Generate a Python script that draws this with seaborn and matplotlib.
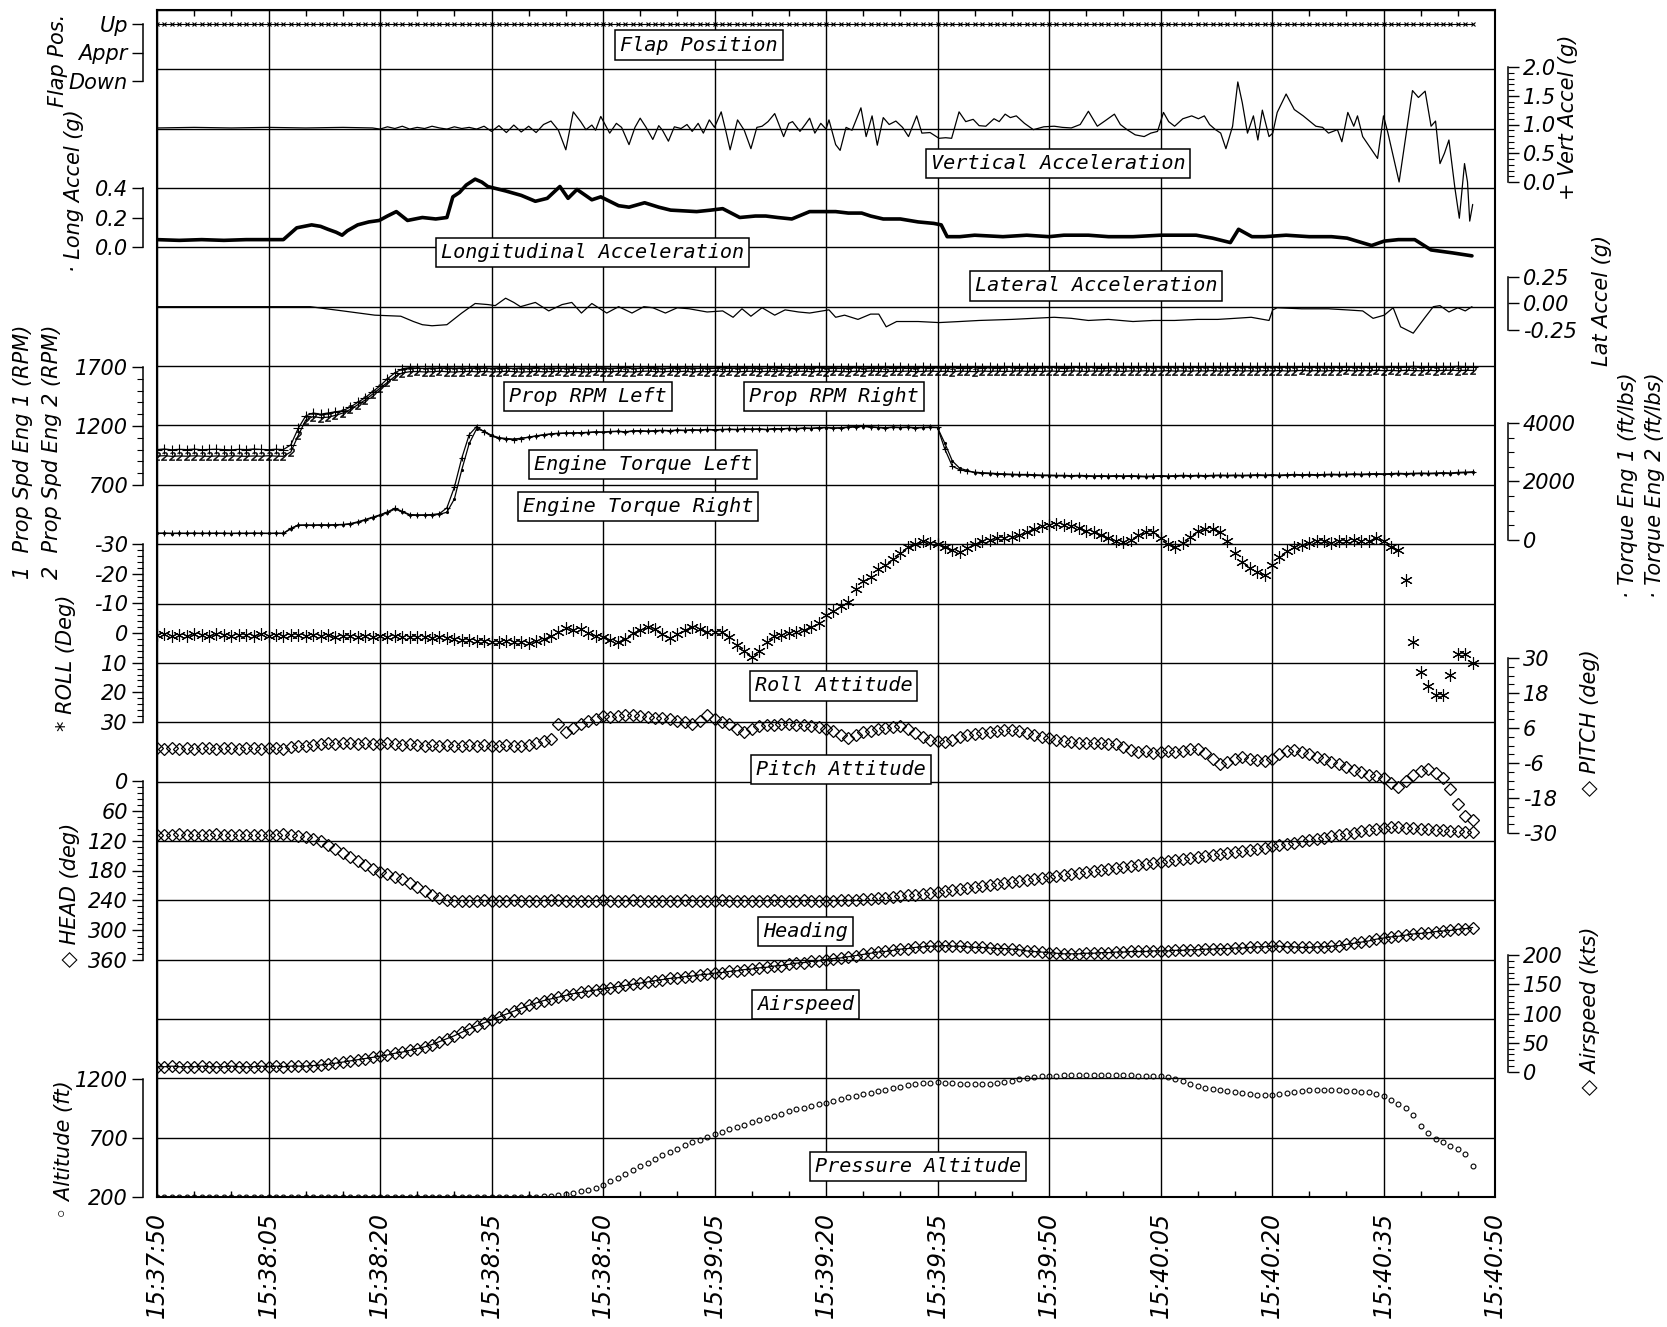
import numpy as np
import matplotlib
matplotlib.use("Agg")
import matplotlib.pyplot as plt
import seaborn as sns

sns.set_style("white", {"axes.edgecolor": "black", "text.color": "black",
                        "xtick.color": "black", "ytick.color": "black"})
plt.rcParams['font.family'] = ['DejaVu Sans']
plt.rcParams['font.style'] = 'italic'

#time axis, seconds after 15:37:50 (one sample per second)
secs = np.arange(0, 178)
time_labels = ['15:37:50', '15:38:05', '15:38:20', '15:38:35', '15:38:50', '15:39:05', '15:39:20',
               '15:39:35', '15:39:50', '15:40:05', '15:40:20', '15:40:35', '15:40:50']

flap_pos = ['Up'] * len(secs)
flap_code = {'Down': 0, 'Appr': 1, 'Up': 2}

#(sec, g)
vert_accel = [
    (0, .94), (5, .95), (10, .94), (15, .95), (20, .94), (25, .95), (29, .94), (30, .92), (31, .96), (32, .93),
    (33, .97), (34, .92), (35, .95), (36, .93), (37, .97), (38, .94), (39, .92), (40, .96), (41, .93), (42, .95),
    (43, .92), (44, .97), (45, .88), (46, .98), (47, .86), (48, .99), (49, .87), (50, .97), (51, .86), (52, 1.0),
    (53, 1.06), (54, .9), (55, .56), (56, 1.22), (57, 1.05), (57.7, .91), (58.5, .99), (59, .9), (59.7, 1.14), (60.9, .85),
    (61.8, 1.02), (62.5, .95), (63.5, .65), (64.3, .95), (65, 1.11), (65.8, .95), (66.7, .74), (67.5, .98), (68, .9), (68.8, .71),
    (69.6, .96), (70.5, .93), (71.3, 1.0), (72, .88), (72.8, 1.02), (73.5, .85), (74.3, 1.08), (75, .95), (75.9, 1.22), (76.5, .9),
    (77.1, .56), (78.1, 1.08), (79, .9), (79.9, .58), (80.7, .95), (81.4, .97), (82.2, 1.05), (83.1, 1.19), (84.3, .79), (85, 1.02),
    (85.5, 1.05), (86.5, .88), (87.2, 1.0), (87.8, 1.11), (88.5, .85), (89.3, 1.02), (90, .92), (90.4, 1.08), (91.3, .65), (91.9, .55),
    (92.7, .95), (93.5, .9), (94.7, 1.29), (95.4, .79), (96.2, 1.15), (96.9, .64), (97.7, 1.12), (98.5, 1.0), (99.4, 1.06), (100.3, .95),
    (101.1, .79), (102.2, 1.15), (102.9, .85), (104, .86), (105.2, .76), (106.1, .77), (106.9, .76), (107.9, 1.22), (108.8, 1.05), (109.8, 1.09),
    (110.6, .98), (111.5, .97), (112.6, 1.1), (113.3, 1.05), (114.1, 1.18), (114.8, 1.12), (115.6, 1.15), (116.7, 1.02), (117.9, .91), (119.3, .96),
    (120.7, .97), (121.8, .95), (123, .94), (124.2, 1.0), (125.3, 1.23), (126.5, .97), (127.5, 1.06), (128.8, 1.18), (129.6, 1.0), (130.5, .91),
    (131.6, .82), (132.8, .79), (133.7, .85), (134.6, .88), (135.4, 1.21), (136.1, 1.05), (136.9, .97), (138, 1.1), (139.2, 1.15), (140.1, 1.1),
    (140.9, 1.15), (141.6, 1.0), (142.4, .91), (143.1, .85), (143.8, .58), (144.7, .97), (145.4, 1.74), (146, 1.38), (146.7, .85), (147.5, 1.15),
    (148.1, .73), (148.7, 1.25), (149.6, .79), (150.1, .85), (150.7, 1.21), (151.9, 1.53), (153, 1.26), (154.2, 1.15), (155.9, .97), (156.8, .95),
    (157.6, .85), (158.8, .91), (159.4, .7), (160.2, 1.21), (161, .97), (161.5, 1.15), (162.2, .79), (163.2, .6), (164.2, .41), (165, 1.15),
    (165.6, .85), (166.4, .4), (167.1, 0.0), (168, .79), (168.9, 1.59), (169.7, 1.47), (170.6, 1.58), (171.4, .97), (172, 1.06), (172.6, .32),
    (173.2, .5), (173.8, .73), (174.6, -.1), (175.2, -.63), (175.9, .32), (176.3, 0.0), (176.6, -.68), (177, -.39)]

long_accel = [
    (0, .05), (3, .045), (6, .05), (9, .045), (12, .05), (15, .05), (17, .05), (18.8, .13), (20.8, .15), (22, .14),
    (23, .12), (24.1, .10), (24.9, .08), (25.6, .11), (27, .15), (28.5, .17), (29.9, .18), (31, .21), (32.2, .24), (33.7, .18),
    (35.7, .20), (37.5, .19), (39, .20), (39.8, .34), (40.7, .37), (41.6, .42), (42.8, .46), (43.7, .44), (44.5, .41), (46.9, .38),
    (49, .35), (50.9, .31), (52.5, .33), (54.2, .41), (55.3, .33), (56.5, .39), (58.5, .32), (59.7, .34), (62.1, .28), (63.5, .27),
    (65.6, .30), (67.5, .27), (69.1, .25), (72.6, .24), (74.5, .25), (76.1, .26), (78.4, .20), (80.5, .21), (81.9, .21), (83.5, .20),
    (85.4, .19), (87.8, .24), (89.5, .24), (91.3, .24), (93, .23), (94.8, .23), (96, .21), (97.7, .19), (100, .19), (102.4, .17),
    (104.5, .16), (105.5, .15), (106.3, .07), (108, .07), (110, .08), (113.8, .07), (117, .08), (120, .07), (122, .08), (125.3, .08),
    (128, .07), (131.3, .07), (135, .08), (139.8, .08), (142, .06), (144.4, .03), (145.5, .12), (147.3, .07), (149, .07), (151.9, .08),
    (155, .07), (158, .07), (160.1, .06), (163.4, .01), (165.1, .04), (167, .05), (169.2, .05), (171.4, -.02), (174.3, -.04), (176.9, -.06)]

lat_accel = [
    (0, -.03), (10, -.03), (20.6, -.03), (25, -.07), (29.3, -.11), (32.8, -.12), (34.5, -.17), (35.7, -.2), (37, -.21), (39, -.2),
    (41, -.09), (42.8, 0.0), (44.5, -.01), (45.5, -.02), (46.9, .05), (48, .01), (48.9, -.03), (50.9, .01), (52.7, -.07), (54.5, -.01),
    (55.8, .01), (57.1, -.09), (58.5, 0.0), (60.5, -.09), (62.1, -.03), (63.9, -.09), (65.5, -.03), (66.7, -.04), (68.4, -.09), (70, -.04),
    (71.6, -.05), (74, -.08), (76.1, -.07), (77.5, -.13), (78.7, -.05), (79.9, -.12), (81.4, -.04), (83.1, -.11), (84.5, -.06), (86.3, -.08),
    (87.8, -.09), (90.4, -.06), (91.3, -.13), (92.5, -.11), (94.3, -.15), (96, -.1), (97.1, -.1), (98.1, -.22), (99.5, -.17), (102.4, -.17),
    (105.2, -.18), (108, -.17), (110.6, -.16), (115, -.15), (120.7, -.13), (123, -.14), (125.3, -.16), (128, -.15), (131.3, -.17), (134, -.16),
    (136.9, -.16), (140, -.15), (142.7, -.15), (145, -.14), (147.2, -.13), (149.6, -.16), (150.1, -.06), (150.7, -.04), (154, -.05), (157.6, -.05),
    (160, -.06), (162.2, -.07), (163.6, -.14), (165.1, -.11), (166.3, -.04), (167.3, -.22), (169, -.28), (170.6, -.13), (171.7, -.03), (172.6, -.02),
    (173.8, -.08), (175, -.04), (176, -.07), (176.9, -.03)]

prop_eng1 = [
    1000, 1005, 998, 1002, 1000, 1004, 999, 1001, 1003, 1000,
    998, 1002, 1000, 1005, 1001, 999, 1003, 1000, 1040, 1180,
    1285, 1310, 1300, 1310, 1320, 1330, 1360, 1400, 1440, 1490,
    1540, 1600, 1650, 1685, 1695, 1690, 1688, 1692, 1690, 1694,
    1690, 1693, 1689, 1695, 1691, 1690, 1694, 1692, 1688, 1693,
    1691, 1695, 1690, 1693, 1689, 1692, 1695, 1690, 1693, 1691,
    1694, 1690, 1692, 1696, 1691, 1689, 1693, 1695, 1690, 1692,
    1695, 1691, 1693, 1690, 1694, 1692, 1696, 1691, 1693, 1695,
    1692, 1694, 1690, 1696, 1693, 1691, 1695, 1692, 1694, 1697,
    1693, 1695, 1691, 1694, 1696, 1692, 1695, 1693, 1697, 1694,
    1696, 1692, 1695, 1697, 1693, 1696, 1694, 1698, 1695, 1693,
    1697, 1695, 1698, 1694, 1696, 1699, 1695, 1697, 1694, 1698,
    1696, 1699, 1695, 1697, 1700, 1696, 1698, 1695, 1699, 1697,
    1700, 1696, 1698, 1701, 1697, 1699, 1696, 1700, 1698, 1701,
    1697, 1700, 1698, 1702, 1699, 1697, 1701, 1699, 1702, 1698,
    1700, 1703, 1699, 1701, 1698, 1702, 1700, 1703, 1699, 1701,
    1704, 1700, 1702, 1699, 1703, 1701, 1704, 1700, 1702, 1705,
    1701, 1703, 1700, 1704, 1702, 1705, 1701, 1703]

prop_eng2 = [
    945, 948, 943, 946, 944, 947, 945, 943, 946, 944,
    947, 945, 943, 946, 944, 948, 945, 943, 980, 1120,
    1250, 1280, 1270, 1275, 1290, 1310, 1340, 1380, 1420, 1470,
    1520, 1570, 1620, 1650, 1660, 1662, 1658, 1660, 1664, 1660,
    1657, 1661, 1663, 1659, 1662, 1658, 1660, 1664, 1661, 1657,
    1660, 1663, 1659, 1661, 1664, 1658, 1662, 1660, 1657, 1663,
    1661, 1659, 1664, 1660, 1658, 1662, 1665, 1661, 1659, 1663,
    1660, 1664, 1658, 1662, 1660, 1665, 1661, 1663, 1659, 1662,
    1664, 1660, 1663, 1661, 1665, 1659, 1662, 1664, 1660, 1663,
    1661, 1665, 1662, 1660, 1664, 1661, 1666, 1662, 1660, 1664,
    1662, 1665, 1661, 1663, 1666, 1662, 1664, 1660, 1665, 1663,
    1661, 1666, 1663, 1665, 1662, 1664, 1667, 1663, 1665, 1662,
    1666, 1664, 1662, 1667, 1665, 1663, 1666, 1664, 1668, 1665,
    1663, 1667, 1665, 1668, 1664, 1666, 1669, 1665, 1667, 1664,
    1668, 1666, 1669, 1665, 1667, 1670, 1666, 1668, 1665, 1669,
    1667, 1670, 1666, 1668, 1671, 1667, 1669, 1666, 1670, 1668,
    1671, 1667, 1670, 1668, 1672, 1669, 1671, 1668, 1672, 1670,
    1668, 1672, 1669, 1671, 1673, 1670, 1672, 1671]

torque_eng1 = [
    230, 235, 228, 232, 230, 234, 229, 231, 233, 230,
    228, 232, 230, 235, 231, 229, 233, 230, 400, 510,
    515, 510, 520, 515, 525, 530, 560, 620, 700, 780,
    860, 960, 1087, 980, 870, 858, 860, 870, 900, 1100,
    1800, 2800, 3600, 3880, 3700, 3550, 3480, 3450, 3430, 3470,
    3520, 3560, 3600, 3630, 3650, 3660, 3660, 3670, 3680, 3700,
    3690, 3710, 3720, 3700, 3730, 3740, 3720, 3740, 3750, 3740,
    3760, 3750, 3770, 3760, 3780, 3770, 3780, 3790, 3780, 3800,
    3790, 3800, 3780, 3810, 3800, 3820, 3810, 3830, 3820, 3840,
    3850, 3830, 3840, 3860, 3880, 3890, 3870, 3850, 3840, 3860,
    3850, 3860, 3840, 3850, 3860, 3850, 3100, 2520, 2400, 2350,
    2320, 2300, 2290, 2270, 2260, 2250, 2240, 2240, 2230, 2220,
    2220, 2210, 2210, 2200, 2210, 2200, 2190, 2200, 2190, 2200,
    2190, 2200, 2190, 2180, 2190, 2200, 2190, 2200, 2210, 2200,
    2210, 2200, 2210, 2220, 2210, 2220, 2210, 2220, 2230, 2220,
    2230, 2220, 2230, 2240, 2230, 2240, 2230, 2240, 2250, 2240,
    2250, 2260, 2250, 2260, 2270, 2260, 2270, 2280, 2270, 2280,
    2290, 2280, 2290, 2300, 2290, 2310, 2320, 2330]

torque_eng2 = [
    225, 228, 222, 226, 224, 227, 223, 225, 228, 224,
    222, 226, 224, 228, 225, 223, 227, 224, 380, 500,
    505, 500, 510, 505, 515, 520, 545, 600, 680, 760,
    840, 930, 1060, 960, 850, 840, 845, 850, 880, 950,
    1400, 2400, 3300, 3800, 3720, 3580, 3500, 3470, 3450, 3480,
    3510, 3550, 3590, 3620, 3640, 3650, 3655, 3660, 3670, 3690,
    3680, 3700, 3710, 3690, 3720, 3730, 3710, 3730, 3740, 3730,
    3750, 3740, 3760, 3750, 3770, 3760, 3770, 3780, 3770, 3790,
    3780, 3790, 3770, 3800, 3790, 3810, 3800, 3820, 3810, 3830,
    3840, 3820, 3830, 3850, 3870, 3880, 3860, 3840, 3830, 3850,
    3840, 3850, 3830, 3840, 3850, 3840, 3300, 2700, 2450, 2380,
    2300, 2280, 2270, 2250, 2240, 2230, 2220, 2220, 2210, 2200,
    2200, 2190, 2190, 2180, 2190, 2180, 2170, 2180, 2170, 2180,
    2170, 2180, 2170, 2160, 2170, 2180, 2170, 2180, 2190, 2180,
    2190, 2180, 2190, 2200, 2190, 2200, 2190, 2200, 2210, 2200,
    2210, 2200, 2210, 2220, 2210, 2220, 2210, 2220, 2230, 2220,
    2230, 2240, 2230, 2240, 2250, 2240, 2250, 2260, 2250, 2260,
    2270, 2260, 2270, 2280, 2270, 2290, 2300, 2310]

roll = [
    0.8, 0.5, 1.0, 0.6, 0.9, 0.4, 0.8, 1.0, 0.5, 0.7,
    0.9, 0.6, 0.8, 1.1, 0.5, 0.9, 0.7, 1.0, 0.6, 0.8,
    0.9, 0.7, 1.1, 0.8, 1.2, 0.9, 1.0, 1.3, 0.9, 1.2,
    1.0, 1.3, 1.1, 1.4, 1.2, 1.5, 1.3, 1.6, 1.4, 1.7,
    1.9, 2.2, 2.5, 2.8, 2.6, 2.9, 3.1, 2.8, 3.2, 2.9,
    3.3, 2.6, 2.0, 1.0, -0.5, -1.8, -1.0, -1.5, 0.0, 1.0,
    1.5, 2.5, 3.0, 2.0, 0.0, -1.0, -2.0, -1.2, 0.5, 1.7,
    0.5, -1.0, -2.1, -1.5, -0.5, -0.4, -0.5, 1.5, 4.0, 6.0,
    8.0, 6.0, 3.0, 1.0, 0.6, 0.0, -0.5, -1.0, -2.0, -3.3,
    -6.0, -7.5, -9.0, -10.6, -15.0, -17.5, -19.0, -21.5, -23.0, -25.0,
    -27.0, -29.0, -30.0, -31.0, -30.5, -30.0, -29.0, -28.0, -27.2, -28.5,
    -30.0, -31.0, -31.5, -32.0, -32.0, -32.3, -33.0, -34.0, -35.0, -36.0,
    -36.5, -36.8, -36.5, -36.0, -35.5, -34.5, -34.0, -33.0, -32.0, -31.0,
    -30.7, -31.5, -33.0, -34.0, -34.0, -32.0, -30.0, -29.1, -30.5, -32.5,
    -34.5, -35.2, -35.0, -34.0, -31.0, -27.0, -24.0, -22.0, -20.5, -19.6,
    -23.0, -25.5, -27.5, -29.0, -29.6, -30.5, -31.0, -31.0, -30.5, -31.0,
    -31.0, -31.5, -31.0, -31.0, -32.0, -31.0, -29.0, -28.0, -18.0, 3.0,
    13.0, 18.0, 21.0, 21.0, 14.0, 7.0, 7.0, 10.0]

pitch = [
    -1.0, -1.2, -0.8, -1.1, -0.9, -1.2, -1.0, -0.8, -1.1, -1.0,
    -0.9, -1.1, -1.0, -0.8, -1.2, -1.0, -0.9, -1.1, -0.6, -0.3,
    0.0, 0.3, 0.6, 0.8, 0.6, 0.9, 0.7, 0.5, 0.8, 0.6,
    0.4, 0.7, 0.5, 0.3, 0.6, 0.2, 0.0, 0.3, -0.1, 0.2,
    0.0, -0.2, 0.1, -0.1, 0.2, 0.0, -0.2, 0.1, -0.1, 0.0,
    0.3, 0.8, 1.5, 2.3, 7.5, 4.6, 6.0, 7.5, 8.5, 9.2,
    10.0, 9.8, 10.2, 10.4, 10.4, 10.0, 9.8, 9.6, 9.6, 9.0,
    8.5, 8.0, 7.5, 8.5, 10.4, 9.0, 8.0, 7.5, 5.5, 4.6,
    5.5, 6.8, 7.0, 7.2, 7.5, 7.5, 7.2, 7.0, 6.8, 6.5,
    5.8, 5.1, 3.5, 2.5, 3.5, 4.5, 5.1, 5.5, 6.0, 6.5,
    6.8, 5.5, 4.3, 3.0, 2.0, 1.5, 1.2, 2.0, 2.8, 3.5,
    4.0, 4.3, 4.6, 5.0, 5.2, 5.2, 5.0, 4.3, 3.5, 3.0,
    2.5, 2.0, 1.5, 1.2, 1.0, 0.8, 1.0, 0.8, 0.6, 0.6,
    -0.5, -1.5, -2.3, -2.0, -2.5, -2.3, -2.0, -2.3, -1.8, -1.3,
    -1.1, -2.5, -4.5, -6.3, -5.5, -4.5, -4.0, -4.5, -5.0, -5.2,
    -4.5, -3.0, -2.0, -1.7, -2.2, -3.0, -4.0, -4.6, -5.5, -6.5,
    -7.5, -8.3, -9.1, -10.0, -10.5, -11.0, -13.0, -14.3, -12.0, -10.0,
    -8.8, -8.2, -9.5, -11.0, -15.0, -20.0, -24.0, -25.5]

heading = [
    108, 109, 108, 107, 108, 109, 108, 108, 107, 108,
    109, 108, 108, 108, 109, 108, 108, 107, 108, 110,
    113, 116, 121, 128, 136, 145, 153, 161, 169, 177,
    183, 188, 193, 198, 206, 214, 222, 229, 235, 239,
    241, 242, 242, 241, 240, 241, 242, 241, 240, 241,
    241, 242, 241, 240, 240, 241, 241, 242, 241, 241,
    240, 241, 242, 241, 240, 241, 241, 241, 242, 241,
    241, 240, 241, 242, 242, 241, 240, 241, 241, 242,
    242, 241, 241, 240, 241, 242, 241, 240, 241, 241,
    241, 241, 240, 239, 239, 238, 237, 236, 235, 233,
    232, 230, 229, 227, 225, 223, 221, 219, 217, 215,
    213, 211, 209, 207, 205, 203, 201, 199, 197, 195,
    193, 191, 189, 187, 185, 183, 181, 179, 177, 175,
    173, 171, 169, 167, 165, 163, 161, 159, 157, 155,
    153, 151, 149, 147, 145, 142, 140, 138, 136, 134,
    131, 129, 126, 124, 121, 119, 116, 114, 111, 109,
    106, 104, 101, 99, 96, 94, 92, 93, 94, 95,
    96, 97, 98, 99, 100, 101, 102, 103]

airspeed = [
    9, 9, 10, 9, 9, 9, 10, 9, 9, 9,
    10, 9, 9, 9, 10, 9, 10, 9, 10, 10,
    10, 11, 12, 13, 15, 17, 19, 21, 23, 25,
    27, 29, 32, 34, 37, 40, 43, 47, 52, 57,
    62, 68, 74, 79, 84, 89, 94, 99, 104, 109,
    114, 118, 122, 125, 128, 131, 134, 136, 138, 140,
    142, 144, 146, 148, 150, 152, 154, 156, 158, 160,
    161, 163, 164, 166, 167, 169, 170, 172, 173, 175,
    176, 178, 179, 181, 182, 184, 186, 187, 189, 190,
    192, 194, 195, 197, 199, 201, 203, 205, 206, 208,
    210, 211, 213, 214, 215, 215, 216, 215, 215, 214,
    213, 213, 212, 211, 211, 210, 209, 207, 206, 205,
    204, 203, 202, 202, 202, 203, 203, 204, 204, 205,
    205, 206, 206, 206, 207, 207, 207, 208, 208, 209,
    209, 210, 210, 211, 211, 212, 212, 213, 214, 214,
    215, 215, 214, 214, 213, 213, 214, 214, 215, 216,
    218, 220, 222, 224, 227, 229, 231, 232, 234, 236,
    237, 238, 240, 241, 242, 244, 245, 247]

altitude = [
    200, 201, 199, 200, 202, 200, 199, 201, 200, 200,
    201, 199, 200, 200, 201, 200, 199, 200, 201, 200,
    200, 199, 201, 200, 200, 202, 200, 199, 200, 201,
    200, 200, 199, 201, 200, 200, 201, 199, 200, 200,
    201, 200, 200, 202, 200, 201, 200, 201, 202, 201,
    202, 204, 207, 211, 216, 224, 234, 247, 262, 280,
    305, 335, 365, 395, 425, 462, 492, 522, 552, 582,
    610, 637, 662, 685, 708, 730, 752, 773, 793, 812,
    832, 851, 870, 888, 906, 925, 942, 957, 972, 986,
    1000, 1014, 1030, 1045, 1058, 1071, 1084, 1096, 1108, 1120,
    1132, 1145, 1156, 1165, 1170, 1172, 1170, 1165, 1160, 1157,
    1155, 1156, 1160, 1167, 1175, 1185, 1196, 1208, 1218, 1224,
    1227, 1229, 1230, 1230, 1231, 1231, 1232, 1232, 1231, 1230,
    1231, 1230, 1229, 1228, 1226, 1222, 1215, 1200, 1180, 1160,
    1140, 1125, 1115, 1109, 1100, 1090, 1080, 1072, 1066, 1065,
    1066, 1072, 1080, 1089, 1097, 1104, 1109, 1111, 1110, 1106,
    1100, 1096, 1092, 1086, 1075, 1058, 1022, 988, 952, 895,
    800, 745, 694, 666, 635, 604, 562, 463]

for name, s in [('prop1', prop_eng1), ('prop2', prop_eng2), ('tq1', torque_eng1), ('tq2', torque_eng2),
                ('roll', roll), ('pitch', pitch), ('head', heading), ('ias', airspeed), ('alt', altitude)]:
    assert len(s) == len(secs), (name, len(s))

box_labels = [('Flap Position', 72.9, 0.59), ('Vertical Acceleration', 121.2, 2.59),
              ('Longitudinal Acceleration', 58.6, 4.08), ('Lateral Acceleration', 126.3, 4.65),
              ('Prop RPM Left', 58.0, 6.51), ('Prop RPM Right', 91.1, 6.51),
              ('Engine Torque Left', 65.4, 7.66), ('Engine Torque Right', 64.7, 8.37),
              ('Roll Attitude', 91.0, 11.39), ('Pitch Attitude', 92.0, 12.79),
              ('Heading', 87.2, 15.52), ('Airspeed', 87.3, 16.75), ('Pressure Altitude', 102.4, 19.49)]

#figure layout in pixels
W, H = 1667, 1327
L, R, T, B = 157, 1495, 10, 1197
POS = [L / W, 1 - B / H, (R - L) / W, (B - T) / H]

fig = plt.figure(figsize=(W / 100, H / 100), dpi=100)
ax = fig.add_axes(POS)
ax.set_xlim(0, 180)
ax.set_ylim(20, 0)
ax.set_yticks(range(21))
ax.set_xticks(range(0, 181, 15), time_labels, rotation=90, fontsize=17)
ax.set_xticks(range(0, 181, 5), minor=True)
ax.grid(True, which='major', color='black', lw=1.0)
ax.tick_params(axis='x', which='major', length=0, pad=11)
ax.tick_params(axis='x', which='minor', direction='in', length=4, width=1, top=True, bottom=True)
ax.tick_params(axis='y', length=0, labelleft=False)
for s in ax.spines.values():
    s.set_visible(True)
    s.set_linewidth(1.5)
    s.set_color('black')


def overlay(va, pa, vb, pb):
    # value va sits at pixel row pa, vb at pb
    k = (vb - va) / (pb - pa)
    a = fig.add_axes(POS, sharex=ax)
    a.set_ylim(va + (B - pa) * k, va + (T - pa) * k)
    a.patch.set_visible(False)
    for s in a.spines.values():
        s.set_visible(False)
    a.tick_params(axis='x', which='both', bottom=False, top=False, labelbottom=False)
    a.tick_params(axis='y', which='both', left=False, right=False, labelleft=False, labelright=False)
    a.grid(False)
    return a


def bracket(a, side, lo, hi, major, labels, minor=None):
    sp = a.spines[side]
    sp.set_visible(True)
    sp.set_bounds(lo, hi)
    sp.set_position(('outward', 10 if side == 'left' else 9))
    sp.set_linewidth(1.1)
    sp.set_color('black')
    a.set_yticks(major, labels)
    if minor:
        a.set_yticks(np.arange(lo, hi + minor / 2, minor), minor=True)
    on = dict(left=side == 'left', right=side == 'right',
              labelleft=side == 'left', labelright=side == 'right')
    a.tick_params(axis='y', which='major', length=8, width=1, labelsize=15, pad=3, **on)
    a.tick_params(axis='y', which='minor', length=4, width=0.8, left=side == 'left', right=side == 'right')


K = dict(color='black', estimator=None, legend=False)

#Flap position
a = overlay(2, 24, 0, 81)
sns.lineplot(x=secs, y=[flap_code[f] for f in flap_pos], ax=a, lw=0.8, marker='x', ms=3.5, mec='black', mew=0.8, **K)
bracket(a, 'left', 0, 2, [0, 1, 2], ['Down', 'Appr', 'Up'])

#vertical acceleration
a = overlay(2.0, 67, 0.0, 182)
t, v = zip(*vert_accel)
sns.lineplot(x=t, y=v, ax=a, lw=0.9, **K)
ticks = [0, .5, 1, 1.5, 2]
bracket(a, 'right', 0, 2, ticks, [f'{x:.1f}' for x in ticks], minor=0.1)

#longitudinal acceleration
a = overlay(0.4, 188, 0.0, 247)
t, v = zip(*long_accel)
sns.lineplot(x=t, y=v, ax=a, lw=2.6, **K)
ticks = [0, .2, .4]
bracket(a, 'left', 0, 0.4, ticks, [f'{x:.1f}' for x in ticks])

#lateral acceleration
a = overlay(0.25, 277, -0.25, 330)
t, v = zip(*lat_accel)
sns.lineplot(x=t, y=v, ax=a, lw=0.9, **K)
ticks = [-.25, 0, .25]
bracket(a, 'right', -0.25, 0.25, ticks, [f'{x:.2f}' for x in ticks])

#prop speed
a = overlay(1700, 367, 700, 485)
sns.lineplot(x=secs, y=prop_eng1, ax=a, lw=0.9, marker='+', ms=7, mec='black', mew=0.8, **K)
sns.lineplot(x=secs, y=prop_eng2, ax=a, lw=0.9, marker='$2$', ms=6, mec='black', mfc='black', mew=0.3, **K)
ticks = [700, 1200, 1700]
bracket(a, 'left', 700, 1700, ticks, [str(x) for x in ticks], minor=100)

#engine torque
a = overlay(4000, 423, 0, 540)
sns.lineplot(x=secs, y=torque_eng1, ax=a, lw=0.9, marker='+', ms=4, mec='black', mew=0.8, **K)
sns.lineplot(x=secs, y=torque_eng2, ax=a, lw=0.9, marker='.', ms=3, mec='black', mfc='black', **K)
ticks = [0, 2000, 4000]
bracket(a, 'right', 0, 4000, ticks, [str(x) for x in ticks], minor=500)

#roll
a = overlay(-30, 544, 30, 722)
sns.lineplot(x=secs, y=roll, ax=a, ls='none', marker=(6, 2, 0), ms=9, mec='black', mew=0.8, **K)
ticks = list(range(-30, 31, 10))
bracket(a, 'left', -30, 30, ticks, [str(x) for x in ticks], minor=2)

#pitch
a = overlay(30, 658, -30, 833)
sns.lineplot(x=secs, y=pitch, ax=a, ls='none', marker='D', ms=6, mfc='none', mec='black', mew=0.9, **K)
ticks = [-30, -18, -6, 6, 18, 30]
bracket(a, 'right', -30, 30, ticks, [str(x) for x in ticks], minor=3)

#heading
a = overlay(0, 781, 360, 960)
sns.lineplot(x=secs, y=heading, ax=a, ls='none', marker='D', ms=6, mfc='none', mec='black', mew=0.9, **K)
ticks = list(range(0, 361, 60))
bracket(a, 'left', 0, 360, ticks, [str(x) for x in ticks], minor=12)

#airspeed
a = overlay(200, 955, 0, 1072)
sns.lineplot(x=secs, y=airspeed, ax=a, lw=0.9, marker='D', ms=6, mfc='none', mec='black', mew=0.9, **K)
ticks = list(range(0, 201, 50))
bracket(a, 'right', 0, 200, ticks, [str(x) for x in ticks], minor=10)

#pressure altitude
a = overlay(1200, 1079, 200, 1197)
sns.lineplot(x=secs, y=altitude, ax=a, ls='none', marker='o', ms=3.5, mfc='none', mec='black', mew=0.8, **K)
ticks = [200, 700, 1200]
bracket(a, 'left', 200, 1200, ticks, [str(x) for x in ticks])

#boxed trace names, on top of everything
for txt, tx, row in box_labels:
    fig.text(tx, row, txt, transform=ax.transData, ha='center', va='center',
             family='DejaVu Sans Mono', style='oblique', fontsize=14.5,
             bbox=dict(boxstyle='square,pad=0.25', fc='white', ec='black', lw=1.1))

#axis titles (pixel positions)
side_labels = [('Flap Pos.', 58, 60), ('\u00b7 Long Accel (g)', 74, 191),
               ('1  Prop Spd Eng 1 (RPM)', 23, 452), ('2  Prop Spd Eng 2 (RPM)', 52, 452),
               ('* ROLL (Deg)', 66, 663), ('\u25c7 HEAD (deg)', 70, 895), ('\u25e6 Altitude (ft)', 64, 1150),
               ('+ Vert Accel (g)', 1568, 117), ('Lat Accel (g)', 1602, 300),
               ('\u00b7 Torque Eng 1 (ft/lbs)', 1628, 485), ('\u00b7 Torque Eng 2 (ft/lbs)', 1655, 485),
               ('\u25c7 PITCH (deg)', 1590, 723), ('\u25c7 Airspeed (kts)', 1590, 1011)]
for txt, px, py in side_labels:
    fig.text(px / W, 1 - py / H, txt, rotation=90, ha='center', va='center', fontsize=15)

fig.savefig('out.png', dpi=100)
